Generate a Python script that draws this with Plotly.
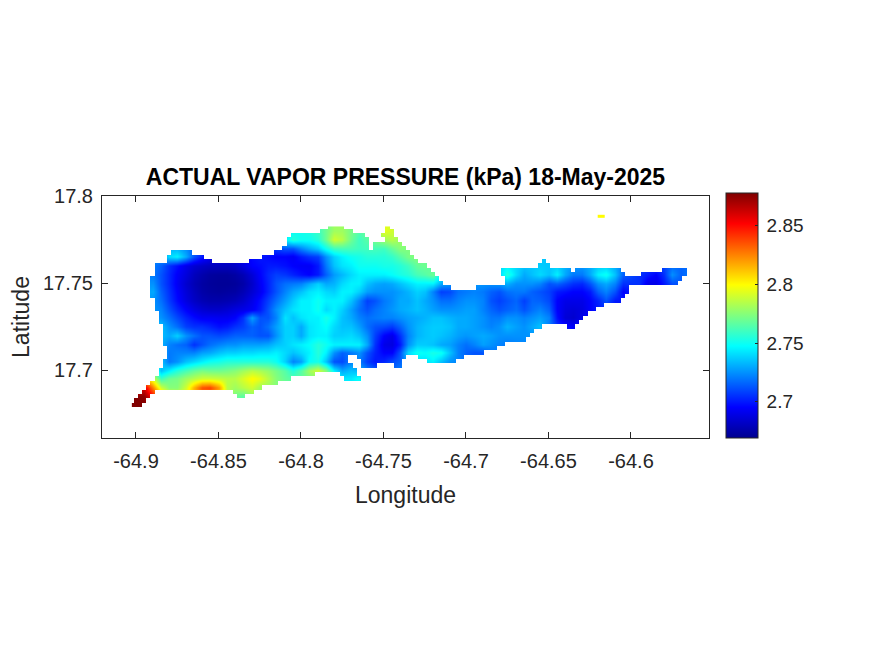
import plotly.graph_objects as go

_ = None

lons = [round(-64.9 + 0.005 * i, 3) for i in range(68)]

# actual vapor pressure in Pa, north to south, west to east
vapor_pa = [
    [_] * 22 + [2760, 2770, 2780, 2780, 2772, 2765] + [_] * 2 + [2795, 2790],
    [_] * 18 + [2745, 2755, 2750, 2750, 2755, 2770, 2790, 2785, 2770, 2760] + [_] * 2 + [2780, 2785],
    [_] * 17 + [2708, 2712, 2712, 2722, 2730, 2737, 2750, 2760, 2762, 2762, 2760] + [_] * 2 + [2760, 2768, 2775],
    [_] * 4 + [2740, 2745, 2730, 2712, 2700] + [_] * 6
    + [2700, 2697, 2695, 2695, 2693, 2700, 2705, 2708, 2725, 2738, 2745, 2750, 2752, 2755, 2755, 2755, 2758, 2765, 2772, 2775],
    [_] * 3 + [2715, 2705, 2698, 2690, 2685, 2682, 2680, 2680, 2680, 2682, 2688, 2695, 2697, 2700, 2700, 2698, 2695, 2693, 2693,
               2700, 2720, 2735, 2742, 2745, 2750, 2750, 2750, 2752, 2752, 2755, 2760, 2768, 2770],
    [_] * 3 + [2712, 2703, 2694, 2687, 2680, 2676, 2673, 2672, 2672, 2674, 2678, 2686, 2695, 2703, 2708, 2706, 2702, 2698, 2695,
               2700, 2715, 2727, 2733, 2740, 2745, 2745, 2745, 2745, 2748, 2752, 2755, 2762, 2765, 2770] + [_] * 8
    + [2755, 2740, 2730, 2735, 2740, 2735, 2745, 2730, 2720, 2720, 2730, 2745, 2750, 2735, 2715, 2710, 2705, 2700, 2695, 2705, 2725, 2715, 2720],
    [_] * 2 + [2725, 2712, 2703, 2693, 2684, 2678, 2674, 2672, 2671, 2671, 2672, 2675, 2683, 2693, 2702, 2712, 2718, 2720,
               2722, 2730, 2738, 2730, 2732, 2740, 2745, 2745, 2735, 2730, 2728, 2730, 2735, 2740, 2745, 2745, 2745, 2730] + [_] * 8
    + [2725, 2725, 2725, 2722, 2712, 2715, 2710, 2705, 2703, 2712, 2725, 2730, 2722, 2705, 2705, 2705, 2690, 2690, 2700],
    [_] * 2 + [2730, 2715, 2705, 2695, 2686, 2680, 2675, 2673, 2672, 2673, 2674, 2678, 2685, 2692, 2702, 2712, 2722, 2730,
               2735, 2742, 2745, 2740, 2738, 2745, 2745, 2738, 2728, 2725, 2725, 2725, 2728, 2732, 2738, 2735, 2722, 2708, 2710, 2718,
               2720, 2722, 2720, 2715, 2712, 2718, 2720, 2720, 2715, 2712, 2708, 2700, 2698, 2695, 2695, 2700, 2715, 2722, 2712, 2695],
    [_] * 3 + [2718, 2707, 2697, 2688, 2682, 2678, 2676, 2676, 2677, 2679, 2683, 2690, 2698, 2708, 2718, 2728, 2737,
               2745, 2745, 2750, 2745, 2745, 2745, 2735, 2722, 2708, 2712, 2720, 2724, 2730, 2730, 2735, 2730, 2725, 2718, 2718, 2722,
               2725, 2725, 2722, 2712, 2708, 2712, 2716, 2708, 2716, 2715, 2710, 2695, 2690, 2690, 2690, 2695, 2702, 2712, 2700],
    [_] * 3 + [2722, 2712, 2703, 2695, 2689, 2685, 2683, 2683, 2685, 2688, 2690, 2693, 2700, 2712, 2725, 2735, 2742,
               2745, 2745, 2750, 2740, 2745, 2738, 2728, 2718, 2712, 2718, 2722, 2726, 2730, 2732, 2735, 2732, 2728, 2725, 2725, 2726,
               2728, 2728, 2722, 2716, 2712, 2715, 2718, 2712, 2718, 2722, 2715, 2695, 2688, 2686, 2688, 2695],
    [_] * 3 + [2725, 2718, 2710, 2702, 2697, 2693, 2693, 2692, 2692, 2695, 2705, 2728, 2712, 2712, 2722, 2742, 2735,
               2742, 2745, 2745, 2752, 2745, 2735, 2730, 2722, 2718, 2720, 2722, 2722, 2725, 2728, 2730, 2732, 2735, 2735, 2732, 2730,
               2730, 2728, 2725, 2720, 2720, 2725, 2725, 2722, 2725, 2728, 2722, 2698, 2686, 2684, 2690],
    [_] * 3 + [2735, 2725, 2718, 2708, 2705, 2705, 2702, 2698, 2700, 2705, 2708, 2715, 2712, 2718, 2728, 2738, 2738,
               2730, 2742, 2745, 2748, 2740, 2735, 2735, 2728, 2718, 2712, 2710, 2707, 2715, 2725, 2732, 2735, 2737, 2737, 2735, 2730,
               2730, 2728, 2725, 2722, 2725, 2732, 2728, 2725, 2730, 2735],
    [_] * 4 + [2730, 2738, 2725, 2718, 2712, 2712, 2710, 2712, 2715, 2715, 2715, 2712, 2712, 2725, 2738, 2738,
               2730, 2742, 2745, 2745, 2738, 2738, 2740, 2735, 2725, 2708, 2695, 2690, 2705, 2722, 2732, 2735, 2737, 2735, 2732, 2728,
               2726, 2728, 2730, 2728, 2725, 2725, 2725, 2725],
    [_] * 4 + [2722, 2718, 2715, 2705, 2712, 2718, 2722, 2725, 2725, 2728, 2728, 2728, 2730, 2735, 2738, 2742,
               2745, 2748, 2755, 2750, 2745, 2745, 2745, 2745, 2730, 2705, 2690, 2688, 2700, 2725, 2737, 2737, 2735, 2730, 2728, 2722,
               2718, 2722, 2728, 2725, 2722, 2720],
    [_] * 4 + [2720, 2722, 2722, 2722, 2728, 2730, 2735, 2738, 2738, 2740, 2740, 2742, 2742, 2745, 2740, 2735,
               2740, 2745, 2755, 2745, 2725, 2715, 2720, 2725, 2712, 2702, 2695, 2695, 2712, 2740, 2750, 2748, 2752, 2750, 2735, 2722,
               2715, 2712, 2712],
    [_] * 4 + [2720, 2725, 2735, 2740, 2745, 2750, 2752, 2755, 2755, 2755, 2755, 2755, 2755, 2750, 2738, 2722,
               2728, 2748, 2752, 2735, 2712, 2710] + [_] * 2 + [2708, 2700, 2703, 2710, 2715] + [_] * 3 + [2745, 2735, 2725],
    [_] * 3 + [2735, 2745, 2755, 2762, 2768, 2772, 2770, 2770, 2772, 2775, 2780, 2785, 2782, 2778, 2772, 2765, 2755,
               2765, 2780, 2790, 2775, 2745, 2730, 2735],
    [_] * 3 + [2760, 2770, 2772, 2780, 2785, 2790, 2790, 2788, 2785, 2785, 2792, 2800, 2795, 2785, 2775, 2768] + [_] * 8 + [2750],
    [_] * 1 + [2860, 2825, 2790, 2775, 2775, 2790, 2815, 2835, 2838, 2820, 2785, 2780, 2785, 2790, 2780],
    [2878, 2875, 2850] + [_] * 9 + [2770, 2765],
    [2878, 2878, 2870],
]
vapor_pa = [row + [_] * (len(lons) - len(row)) for row in vapor_pa]
lats = [round(17.78 - 0.005 * i, 3) for i in range(len(vapor_pa))]
vapor_kpa = [[v / 1000 if v is not None else None for v in row] for row in vapor_pa]

# land cells per row of the finer coast grid, as [first, last] column
coast_lons = [round(-64.9025 + 0.0025 * j, 4) for j in range(137)]
land_spans = [
    [[48, 51], [62, 62]],
    [[46, 53], [62, 63]],
    [[39, 56], [61, 63]],
    [[38, 57], [62, 64]],
    [[38, 57], [59, 65]],
    [[37, 57], [59, 66]],
    [[10, 14], [35, 67]],
    [[9, 17], [32, 68]],
    [[9, 19], [29, 69], [100, 100]],
    [[6, 71], [99, 101]],
    [[6, 72], [90, 106], [108, 118], [129, 134]],
    [[6, 73], [90, 119], [124, 134]],
    [[5, 74], [91, 133]],
    [[5, 75], [91, 132]],
    [[5, 77], [84, 120]],
    [[5, 120]],
    [[5, 119]],
    [[6, 118]],
    [[6, 114]],
    [[6, 112]],
    [[7, 110]],
    [[7, 109]],
    [[7, 108]],
    [[8, 99], [106, 107]],
    [[8, 97]],
    [[8, 96]],
    [[8, 95]],
    [[8, 90]],
    [[9, 88]],
    [[9, 85]],
    [[9, 52], [55, 66], [70, 80]],
    [[8, 52], [56, 65], [72, 78]],
    [[8, 53], [56, 59], [64, 65]],
    [[7, 54]],
    [[7, 44], [51, 54]],
    [[6, 38], [52, 55]],
    [[5, 35]],
    [[4, 31]],
    [[3, 5], [25, 29]],
    [[2, 4], [26, 27]],
    [[1, 3]],
    [[0, 2]],
    [],
]
coast_lats = [round(17.7825 - 0.0025 * k, 4) for k in range(len(land_spans))]
sea = [
    [None if any(a <= j <= b for a, b in row) else 1 for j in range(len(coast_lons))]
    for row in land_spans
]

# small islet north of the east end
islet_lon = -64.6179
islet_lat = 17.7883
islet_vapor = 2.8

jet = [
    [0, "rgb(0,0,143)"],
    [0.125, "rgb(0,0,255)"],
    [0.375, "rgb(0,255,255)"],
    [0.625, "rgb(255,255,0)"],
    [0.875, "rgb(255,0,0)"],
    [1, "rgb(128,0,0)"],
]
cmin, cmax = 2.669, 2.878

lon_ticks = [-64.9, -64.85, -64.8, -64.75, -64.7, -64.65, -64.6]
lon_labels = ["-64.9", "-64.85", "-64.8", "-64.75", "-64.7", "-64.65", "-64.6"]
lat_ticks = [17.7, 17.75, 17.8]
lat_labels = ["17.7", "17.75", "17.8"]
cbar_ticks = [2.7, 2.75, 2.8, 2.85]
# thin space moves the labels off the bar, colorbars have no label standoff
cbar_labels = ["\u20092.7", "\u20092.75", "\u20092.8", "\u20092.85"]

ink = "#262626"
font = "Liberation Sans"

fig = go.Figure()
fig.add_trace(
    go.Heatmap(
        x=lons,
        y=lats,
        z=vapor_kpa,
        zsmooth="best",
        connectgaps=True,
        colorscale=jet,
        zmin=cmin,
        zmax=cmax,
        colorbar=dict(
            x=(726 - 102) / 607,
            xanchor="left",
            y=0,
            yanchor="bottom",
            thickness=32,
            thicknessmode="pixels",
            len=245,
            lenmode="pixels",
            outlinewidth=1,
            outlinecolor=ink,
            ticks="inside",
            ticklen=3,
            tickcolor=ink,
            tickvals=cbar_ticks,
            ticktext=cbar_labels,
            tickfont=dict(size=19, color=ink, family=font),
            xpad=0,
            ypad=0,
        ),
    )
)
# sea mask over the interpolated field, keeps the coast sharper than the field grid
fig.add_trace(
    go.Heatmap(
        x=coast_lons,
        y=coast_lats,
        z=sea,
        colorscale=[[0, "white"], [1, "white"]],
        showscale=False,
        hoverinfo="skip",
    )
)
fig.add_trace(
    go.Heatmap(
        x0=islet_lon,
        dx=0.0045,
        y0=islet_lat,
        dy=0.0018,
        z=[[islet_vapor]],
        colorscale=jet,
        zmin=cmin,
        zmax=cmax,
        showscale=False,
    )
)

axis_style = dict(
    showline=True,
    mirror="ticks",
    linecolor=ink,
    linewidth=1,
    ticks="inside",
    ticklen=6,
    tickcolor=ink,
    showgrid=False,
    zeroline=False,
    tickfont=dict(size=20, color=ink, family=font),
    title_font=dict(size=23, color=ink, family=font),
)
fig.update_xaxes(
    range=[-64.9206, -64.5527],
    tickvals=lon_ticks,
    ticktext=lon_labels,
    title_text="Longitude",
    ticklabelstandoff=5,
    **axis_style,
)
fig.update_yaxes(
    range=[17.661, 17.8],
    tickvals=lat_ticks,
    ticktext=lat_labels,
    title_text="Latitude",
    ticklabelstandoff=4,
    **axis_style,
)
# page body adds 8px on the top and left
fig.update_layout(
    width=867,
    height=648,
    margin=dict(l=94, r=166, t=188, b=218, autoexpand=False),
    paper_bgcolor="white",
    plot_bgcolor="white",
    title=dict(
        text="<b>ACTUAL VAPOR PRESSURE (kPa) 18-May-2025</b>",
        font=dict(size=23, color="black", family=font),
        x=397.5 / 867,
        xanchor="center",
        y=1 - 169 / 648,
        yanchor="middle",
    ),
    showlegend=False,
)

fig.write_html("out.html")
